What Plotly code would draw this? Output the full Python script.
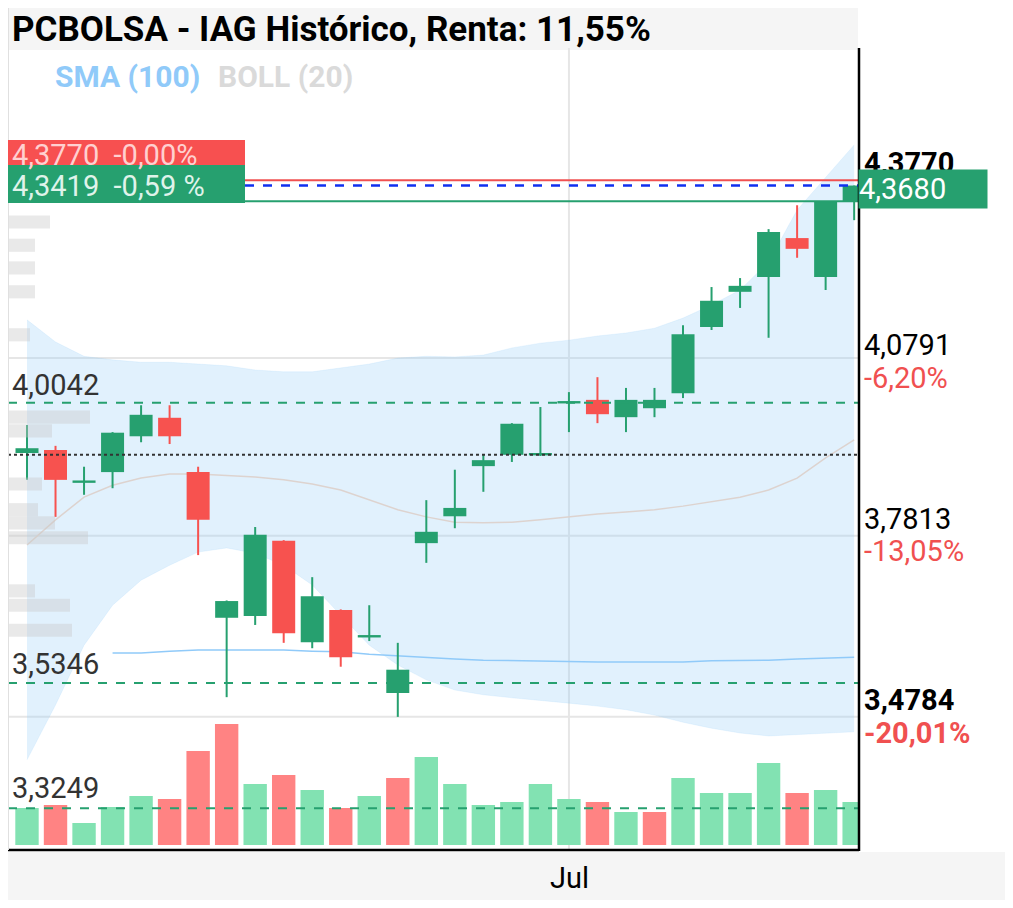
import plotly.graph_objects as go

W, H = 1013, 908
OFF = 8
def px(x): return (x - OFF) / W
def py(y): return 1 - (y - OFF) / H

idx = list(range(30))
opens  = [3.920,3.925,3.871,3.888,3.948,3.979,3.888,3.644,3.647,3.773,3.603,3.657,3.612,3.518,3.769,3.814,3.898,3.917,3.917,4.004,4.009,3.980,3.995,4.020,4.131,4.190,4.215,4.280,4.215,4.342]
highs  = [3.967,3.932,3.897,3.955,4.000,4.000,3.897,3.673,3.796,3.774,3.712,3.658,3.665,3.602,3.841,3.892,3.917,3.970,3.997,4.022,4.047,4.029,4.029,4.134,4.198,4.213,4.295,4.335,4.342,4.368]
lows   = [3.875,3.813,3.850,3.861,3.938,3.935,3.749,3.511,3.632,3.602,3.593,3.562,3.605,3.478,3.736,3.794,3.855,3.905,3.915,3.955,3.970,3.955,3.980,4.012,4.126,4.163,4.113,4.247,4.193,4.310]
closes = [3.928,3.875,3.873,3.954,3.984,3.948,3.808,3.672,3.783,3.618,3.680,3.578,3.614,3.557,3.788,3.828,3.908,3.969,3.919,4.006,3.985,4.009,4.009,4.119,4.175,4.200,4.290,4.262,4.342,4.368]
volumes = [37,40,22,38,49,46,94,121,61,70,55,37,49,67,88,61,40,43,61,46,43,33,33,67,52,52,82,52,55,43]
vol_up = [1,0,1,1,1,0,0,0,1,0,1,0,1,0,1,1,1,1,1,1,0,1,0,1,1,1,1,0,1,1]
boll_up  = [4.143,4.106,4.082,4.076,4.072,4.072,4.069,4.066,4.059,4.056,4.056,4.062,4.069,4.079,4.082,4.081,4.084,4.096,4.104,4.109,4.116,4.121,4.129,4.146,4.168,4.193,4.240,4.327,4.381,4.436]
boll_low = [3.406,3.498,3.598,3.665,3.707,3.732,3.754,3.761,3.752,3.732,3.699,3.649,3.598,3.565,3.540,3.523,3.515,3.510,3.506,3.501,3.496,3.490,3.481,3.469,3.459,3.451,3.446,3.448,3.451,3.453]
boll_mid = [3.766,3.808,3.846,3.866,3.878,3.885,3.885,3.883,3.880,3.875,3.868,3.858,3.841,3.825,3.813,3.804,3.803,3.804,3.808,3.813,3.818,3.821,3.825,3.831,3.838,3.846,3.858,3.878,3.912,3.942]
sma_x = list(range(3, 30))
sma100 = [3.585,3.585,3.588,3.590,3.590,3.590,3.590,3.588,3.587,3.583,3.580,3.577,3.575,3.573,3.572,3.572,3.570,3.570,3.570,3.570,3.570,3.572,3.572,3.573,3.575,3.577,3.578]
prof_price = [4.307,4.268,4.230,4.190,4.118,3.980,3.957,3.868,3.825,3.803,3.778,3.689,3.665,3.623]
prof_len   = [42,27,27,27,22,82,44,34,30,47,80,27,62,64]
jul_idx = 19
grid_prices = [4.0791, 3.7813, 3.4784]
dash_levels = [4.0042, 3.5346, 3.3249]
prev_ref = 3.917
last_price, low_ref, hi_ref = 4.3680, 4.3419, 4.3770

GREEN, RED = "#26a06f", "#f7524f"
fig = go.Figure()

fig.add_trace(go.Bar(y=prof_price, x=prof_len, orientation="h", xaxis="x3", yaxis="y", opacity=1,
                     width=0.022, marker=dict(color="rgba(200,200,200,0.4)", line=dict(width=0)), hoverinfo="skip"))
fig.add_trace(go.Bar(x=idx, y=volumes, yaxis="y2", width=0.82, opacity=1,
                     marker=dict(color=["#82e2b2" if u else "#ff8383" for u in vol_up], line=dict(width=0)), hoverinfo="skip"))

fig.add_trace(go.Scatter(x=idx, y=boll_up, mode="lines", line=dict(width=0.5, color="rgba(144,202,249,0.3)"), hoverinfo="skip"))
fig.add_trace(go.Scatter(x=idx, y=boll_low, mode="lines", fill="tonexty", fillcolor="rgba(144,202,249,0.27)",
                         line=dict(width=0.5, color="rgba(144,202,249,0.3)"), hoverinfo="skip"))
fig.add_trace(go.Scatter(x=idx, y=boll_mid, mode="lines", line=dict(width=1.5, color="#ddd3cf"), hoverinfo="skip"))
fig.add_trace(go.Scatter(x=sma_x, y=sma100, mode="lines", line=dict(width=1.5, color="#90caf9"), hoverinfo="skip"))

for up in (True, False):
    wx, wy, bxs, bys = [], [], [], []
    for i in idx:
        if (closes[i] >= opens[i]) == up:
            wx += [i, i, None]; wy += [lows[i], highs[i], None]
            lo, hi = min(opens[i], closes[i]), max(opens[i], closes[i])
            if hi - lo < 0.004:
                m = (hi + lo) / 2; lo, hi = m - 0.002, m + 0.002
            bxs += [i, i, None]; bys += [lo, hi, None]
    col = GREEN if up else RED
    fig.add_trace(go.Scatter(x=wx, y=wy, mode="lines", line=dict(width=2, color=col), hoverinfo="skip"))
    fig.add_trace(go.Scatter(x=bxs, y=bys, mode="lines", line=dict(width=23, color=col), hoverinfo="skip"))

yr = [3.2550, 4.5984]
fig.update_layout(
    width=W, height=H, margin=dict(l=0, r=0, t=0, b=0), showlegend=False,
    plot_bgcolor="rgba(0,0,0,0)", paper_bgcolor="white", barmode="overlay",
    font=dict(family="Roboto"),
    xaxis=dict(domain=[px(8), px(859)], range=[-0.666, 29.17], showgrid=False, zeroline=False,
               showticklabels=False, fixedrange=True),
    xaxis3=dict(domain=[px(8), px(859)], range=[0, 851], overlaying="x", visible=False),
    yaxis=dict(domain=[py(850), py(48)], range=yr, showgrid=False, zeroline=False, showticklabels=False),
    yaxis2=dict(domain=[py(850), py(48)], range=[-5, 797], overlaying="y", visible=False),
)

def rect(x0, x1, y0, y1, color, layer="above"):
    fig.add_shape(type="rect", xref="paper", yref="paper", x0=px(x0), x1=px(x1), y0=py(y1), y1=py(y0),
                  fillcolor=color, line_width=0, layer=layer)
def hline(y, x0, x1, color, width, dash="solid", layer="above"):
    fig.add_shape(type="line", xref="paper", yref="y", x0=px(x0), x1=px(x1), y0=y, y1=y,
                  line=dict(color=color, width=width, dash=dash), layer=layer)
def pline(x0, y0, x1, y1, color, width):
    fig.add_shape(type="line", xref="paper", yref="paper", x0=px(x0), x1=px(x1), y0=py(y0), y1=py(y1),
                  line=dict(color=color, width=width))

rect(8, 858, 8, 50, "#f5f5f5", "below")
rect(8, 1005, 852, 900, "#f5f5f5", "below")
for g in grid_prices:
    hline(g, 8, 859, "#e6e6e6", 2, layer="below")
fig.add_shape(type="line", xref="x", yref="paper", x0=jul_idx, x1=jul_idx, y0=py(850), y1=py(48),
              line=dict(color="#e6e6e6", width=2), layer="below")
for d in dash_levels:
    hline(d, 8, 859, GREEN, 2, "dash")
hline(prev_ref, 8, 859, "#333", 2, "dot")
hline(hi_ref, 245, 859, "#f05050", 2)
hline(last_price, 245, 859, "#1030f0", 2.5, "dash")
hline(low_ref, 8, 859, GREEN, 2)
pline(859, 851, 859, 48, "black", 2.5)
pline(8, 850, 859, 850, "black", 2.5)
pline(8, 850, 8, 0, "#e0e0e0", 2)
pline(1006, 908, 1006, 0, "#e0e0e0", 2)
rect(8, 245, 140, 168, "#f75050")
rect(8, 245, 165, 203, GREEN)

def ann(x, y, text, size=29, color="black", bold=False, anchor="left"):
    t = f"<b>{text}</b>" if bold else text
    fig.add_annotation(xref="paper", yref="paper", x=px(x), y=py(y), text=t, showarrow=False,
                       xanchor=anchor, yanchor="middle", font=dict(size=size, color=color, family="Roboto"))

ann(10, 29, "PCBOLSA - IAG Histórico, Renta: 11,55%", size=35, bold=True)
ann(53, 77, "SMA (100)", size=30, color="#90caf9", bold=True)
ann(216, 77, "BOLL (20)", size=30, color="#dadada", bold=True)
ann(862, 163, "4,3770", size=29, bold=True)
ann(10, 155, "4,3770  -0,00%", size=29, color="#ffd0d0")
ann(10, 186, "4,3419  -0,59 %", size=29, color="#dff3ea")
ann(862, 345, "4,0791")
ann(862, 378, "-6,20%", color="#f05050")
ann(862, 519, "3,7813")
ann(862, 551, "-13,05%", color="#f05050")
ann(862, 700, "3,4784", bold=True)
ann(862, 733, "-20,01%", color="#f05050", bold=True)
ann(10, 385, "4,0042", color="#333")
ann(10, 664, "3,5346", color="#333")
ann(10, 788, "3,3249", color="#333")
ann(569, 878, "Jul", anchor="center")
fig.add_annotation(xref="paper", yref="paper", x=px(858), y=py(189), text="4,3680 ", showarrow=False,
                   xanchor="left", yanchor="middle", bgcolor=GREEN, width=128, height=38, align="left",
                   font=dict(size=29, color="white", family="Roboto"), borderpad=0)

fig.write_html("out.html")
